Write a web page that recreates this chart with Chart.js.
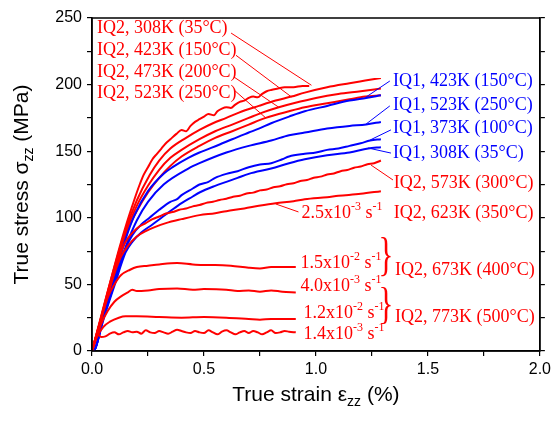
<!doctype html>
<html lang="en">
<head>
<meta charset="UTF-8" />
<title>True stress - true strain</title>
<script src="https://cdn.jsdelivr.net/npm/chart.js"></script>
<style>body{margin:0;background:#fff}</style>
</head>
<body>
<canvas id="stressChart" width="555" height="422"></canvas>
<script>
// ---- IQ2 (red) ----
const iq2_308_strain = [0, 0.03, 0.06, 0.09, 0.12, 0.155, 0.18, 0.2, 0.213, 0.23, 0.25, 0.27, 0.29, 0.31, 0.33, 0.35, 0.377, 0.4, 0.42, 0.44, 0.46, 0.48, 0.5, 0.52, 0.545, 0.56, 0.58, 0.6, 0.62, 0.64, 0.66, 0.68, 0.7, 0.72, 0.74, 0.76, 0.78, 0.8, 0.83, 0.86, 0.9, 0.94, 0.97];
const iq2_308_stress = [0, 18, 38, 57, 76, 96, 109, 119, 125, 132, 138, 144, 148, 152, 156, 159, 163, 166, 165, 169, 172, 174, 176, 178, 177, 180, 182, 183, 182.5, 185, 187, 188, 190, 191, 190.5, 193, 195, 196, 197, 198, 198, 199, 199];

const iq2_423_strain = [0, 0.05, 0.1, 0.15, 0.2, 0.257, 0.3, 0.35, 0.42, 0.48, 0.54, 0.6, 0.656, 0.745, 0.82, 0.89, 0.95, 1.05, 1.15, 1.22, 1.29];
const iq2_423_stress = [0, 32, 63, 91, 113, 132, 143, 152, 160, 166, 171, 175, 179, 184, 188, 191, 194, 198, 201, 203, 205];

const iq2_473_strain = [0, 0.05, 0.1, 0.15, 0.2, 0.25, 0.3, 0.35, 0.4, 0.48, 0.55, 0.626, 0.7, 0.76, 0.834, 0.9, 1.0, 1.1, 1.2, 1.29];
const iq2_473_stress = [0, 31, 62, 89, 109, 124, 136, 145, 151, 159, 165, 170, 175, 179, 183, 186, 190, 193, 195, 197];

const iq2_523_strain = [0, 0.05, 0.1, 0.15, 0.2, 0.25, 0.3, 0.35, 0.4, 0.48, 0.55, 0.626, 0.7, 0.776, 0.88, 0.95, 1.05, 1.15, 1.22, 1.29];
const iq2_523_stress = [0, 30, 61, 87, 105, 119, 130, 139, 146, 154, 160, 165, 170, 175, 180, 183, 186, 189, 191, 192];

const iq2_573_strain = [0, 0.05, 0.1, 0.15, 0.2, 0.24, 0.27, 0.3, 0.33, 0.36, 0.39, 0.42, 0.45, 0.48, 0.51, 0.54, 0.57, 0.6, 0.63, 0.66, 0.69, 0.72, 0.75, 0.78, 0.81, 0.84, 0.87, 0.9, 0.93, 0.96, 0.99, 1.02, 1.05, 1.08, 1.11, 1.14, 1.17, 1.2, 1.23, 1.26, 1.29];
const iq2_573_stress = [0, 30, 60, 82, 92, 96, 99, 101, 103.2, 104.3, 106, 107, 108.6, 109.6, 111.2, 112, 113.4, 114.3, 115.8, 116.6, 118.2, 118.9, 120.6, 121.3, 122.9, 123.7, 125.2, 125.9, 127.6, 128.4, 130.1, 130.9, 132.5, 133.3, 135, 135.9, 137.6, 138.5, 140.2, 141, 143];

const iq2_623_strain = [0, 0.05, 0.1, 0.13, 0.16, 0.2, 0.24, 0.28, 0.33, 0.4, 0.48, 0.55, 0.6, 0.68, 0.745, 0.82, 0.9, 0.95, 1.05, 1.1, 1.2, 1.29];
const iq2_623_stress = [0, 30, 58, 71, 79, 86, 90, 93, 96, 99, 102, 103.5, 105, 107, 109, 111, 112.5, 114, 115.5, 116.5, 118, 120];

const iq2_673a_strain = [0, 0.03, 0.07, 0.1, 0.13, 0.17, 0.2, 0.25, 0.3, 0.38, 0.45, 0.5, 0.55, 0.62, 0.7, 0.75, 0.8, 0.85, 0.91];
const iq2_673a_stress = [0, 17, 40, 50, 57, 61, 63, 64, 65, 66, 65, 64.5, 64.5, 64, 62.5, 62, 63, 63, 63];

const iq2_673b_strain = [0, 0.02, 0.04, 0.07, 0.1, 0.13, 0.16, 0.18, 0.2, 0.25, 0.3, 0.38, 0.45, 0.5, 0.6, 0.65, 0.7, 0.75, 0.8, 0.85, 0.91];
const iq2_673b_stress = [0, 10, 20, 30, 37, 41, 44, 46, 45, 45.5, 46.5, 47, 46, 46.5, 46, 45, 45.5, 44.5, 45.5, 44.5, 44];

const iq2_773a_strain = [0, 0.02, 0.05, 0.08, 0.12, 0.15, 0.2, 0.3, 0.4, 0.5, 0.6, 0.7, 0.75, 0.8, 0.91];
const iq2_773a_stress = [0, 10, 18, 22, 25, 26, 26, 25.5, 25, 25.5, 25, 24, 23.5, 24, 24];

const iq2_773b_strain = [0, 0.01, 0.02, 0.03, 0.04, 0.06, 0.08, 0.1, 0.12, 0.14, 0.16, 0.18, 0.2, 0.22, 0.24, 0.26, 0.28, 0.3, 0.32, 0.34, 0.36, 0.38, 0.4, 0.42, 0.44, 0.46, 0.48, 0.5, 0.52, 0.54, 0.56, 0.58, 0.6, 0.62, 0.64, 0.66, 0.68, 0.7, 0.72, 0.74, 0.76, 0.78, 0.8, 0.82, 0.84, 0.86, 0.88, 0.91];
const iq2_773b_stress = [0, 6, 11, 12, 10.5, 11, 13, 14, 12.5, 14, 15, 14, 14.5, 13, 15.5, 14, 13.5, 15, 14, 13, 14.5, 16, 15, 14, 13.5, 15, 14, 13.5, 15.5, 14, 12.5, 14.5, 15.5, 14, 12.5, 14, 15, 13.5, 15, 14, 12.5, 14, 15.5, 13.5, 14, 15, 14.5, 14];

// ---- IQ1 (blue) ----
const iq1_423_strain = [0, 0.015, 0.05, 0.1, 0.15, 0.19, 0.25, 0.32, 0.36, 0.43, 0.48, 0.57, 0.626, 0.7, 0.745, 0.8, 0.88, 0.95, 1.05, 1.15, 1.224, 1.29];
const iq1_423_stress = [0, 2, 26, 55, 84, 102, 120, 133, 138, 145, 149, 155, 159, 164, 167, 171, 176, 180, 184, 188, 190, 192];

const iq1_523_strain = [0, 0.015, 0.05, 0.1, 0.15, 0.2, 0.25, 0.32, 0.43, 0.48, 0.6, 0.7, 0.8, 0.88, 0.95, 1.05, 1.15, 1.224, 1.29];
const iq1_523_stress = [0, 2, 25, 52, 78, 98, 112, 125, 137, 141, 149, 154, 158, 162, 164, 167, 169, 170, 172];

const iq1_373_strain = [0, 0.015, 0.05, 0.1, 0.15, 0.18, 0.22, 0.257, 0.3, 0.35, 0.38, 0.4, 0.45, 0.48, 0.52, 0.55, 0.6, 0.65, 0.7, 0.75, 0.8, 0.85, 0.88, 0.95, 1.0, 1.05, 1.1, 1.15, 1.2, 1.242, 1.29];
const iq1_373_stress = [0, 2, 24, 51, 77, 87, 95, 100, 106, 112, 114, 117, 122, 125, 127, 130, 133, 135, 138, 140, 141, 144, 146, 148, 149, 151, 152, 154, 156, 158, 159];

const iq1_308_strain = [0, 0.015, 0.05, 0.1, 0.15, 0.18, 0.22, 0.27, 0.31, 0.35, 0.4, 0.45, 0.48, 0.55, 0.6, 0.65, 0.7, 0.8, 0.88, 0.95, 1.05, 1.15, 1.233, 1.29];
const iq1_308_stress = [0, 2, 23, 49, 74, 82, 89, 95, 100, 105, 111, 116, 119, 124, 127, 130, 133, 137, 141, 144, 147, 149, 152, 153];

// ticks
const xTicks = [0, 0.5, 1, 1.5, 2];
const yTicks = [0, 50, 100, 150, 200, 250];

const RED = '#ff0000', BLUE = '#0000ff';
const SERIF = '"Liberation Serif", "Times New Roman", serif';
const SANS = '"Liberation Sans", Arial, sans-serif';

function curve(xs, ys, color) {
  return {
    data: xs.map((v, i) => ({ x: v, y: ys[i] })),
    borderColor: color,
    borderWidth: 2,
    showLine: true,
    pointRadius: 0,
    cubicInterpolationMode: 'monotone',
    fill: false
  };
}

const datasets = [
  curve(iq2_773b_strain, iq2_773b_stress, RED),
  curve(iq2_773a_strain, iq2_773a_stress, RED),
  curve(iq2_673b_strain, iq2_673b_stress, RED),
  curve(iq2_673a_strain, iq2_673a_stress, RED),
  curve(iq2_623_strain, iq2_623_stress, RED),
  curve(iq2_573_strain, iq2_573_stress, RED),
  curve(iq1_308_strain, iq1_308_stress, BLUE),
  curve(iq1_373_strain, iq1_373_stress, BLUE),
  curve(iq1_523_strain, iq1_523_stress, BLUE),
  curve(iq1_423_strain, iq1_423_stress, BLUE),
  curve(iq2_523_strain, iq2_523_stress, RED),
  curve(iq2_473_strain, iq2_473_stress, RED),
  curve(iq2_423_strain, iq2_423_stress, RED),
  curve(iq2_308_strain, iq2_308_stress, RED)
];

// annotations: [parts, x(strain), y(stress), color]
const rate = (m, e) => [[m + 'x10', 0], ['-' + e, 1], [' s', 0], ['-1', 1]];
const notes = [
  [[['IQ2, 308K (35°C)', 0]], 0.022, 242.5, RED],
  [[['IQ2, 423K (150°C)', 0]], 0.022, 226, RED],
  [[['IQ2, 473K (200°C)', 0]], 0.022, 209.5, RED],
  [[['IQ2, 523K (250°C)', 0]], 0.022, 193.7, RED],
  [[['IQ1, 423K (150°C)', 0]], 1.344, 202.7, BLUE],
  [[['IQ1, 523K (250°C)', 0]], 1.344, 184.7, BLUE],
  [[['IQ1, 373K (100°C)', 0]], 1.344, 167.4, BLUE],
  [[['IQ1, 308K (35°C)', 0]], 1.344, 148.6, BLUE],
  [[['IQ2, 573K (300°C)', 0]], 1.348, 126, RED],
  [[['IQ2, 623K (350°C)', 0]], 1.348, 103.6, RED],
  [[['IQ2, 673K (400°C)', 0]], 1.353, 60.8, RED],
  [[['IQ2, 773K (500°C)', 0]], 1.353, 25.5, RED],
  [rate('2.5', 3), 0.936, 103.6, RED],
  [rate('1.5', 2), 0.931, 66, RED],
  [rate('4.0', 3), 0.931, 48.8, RED],
  [rate('1.2', 2), 0.945, 28.5, RED],
  [rate('1.4', 3), 0.945, 12.8, RED]
];
// leader lines: [x1, y1, x2, y2, color]
const leaders = [
  [0.621, 238.7, 0.98, 199.5, RED],
  [0.643, 222, 0.891, 190.7, RED],
  [0.634, 205.7, 0.834, 183, RED],
  [0.634, 196, 0.776, 175, RED],
  [1.330, 202.7, 1.224, 190.7, BLUE],
  [1.330, 184, 1.224, 170.4, BLUE],
  [1.335, 166, 1.242, 158.4, BLUE],
  [1.335, 148.6, 1.233, 152.4, BLUE],
  [1.344, 128.4, 1.246, 139.6, RED],
  [0.922, 104.4, 0.82, 110.4, RED]
];
// braces: [x left, x right, y top, y bottom]
const braces = [
  [1.290, 1.335, 75.8, 47.3],
  [1.290, 1.335, 39.8, 12.0]
];

function rich(ctx, parts, x, y, size, family, draw) {
  let cx = x;
  for (const [t, s] of parts) {
    const fs = s ? Math.round(size * 0.65) : size;
    ctx.font = fs + 'px ' + family;
    if (draw) ctx.fillText(t, cx, y - s * size * 0.33);
    cx += ctx.measureText(t).width;
  }
  return cx - x;
}

const annotate = {
  id: 'annotate',
  afterDraw(chart) {
    const { ctx, chartArea: a } = chart;
    const X = v => chart.scales.x.getPixelForValue(v);
    const Y = v => chart.scales.y.getPixelForValue(v);
    ctx.save();
    ctx.strokeStyle = '#000';
    ctx.lineWidth = 1.5;
    ctx.strokeRect(a.left, a.top, a.right - a.left, a.bottom - a.top);

    ctx.lineWidth = 1;
    for (const [x1, y1, x2, y2, c] of leaders) {
      ctx.strokeStyle = c;
      ctx.beginPath();
      ctx.moveTo(X(x1), Y(y1));
      ctx.lineTo(X(x2), Y(y2));
      ctx.stroke();
    }

    ctx.textBaseline = 'middle';
    ctx.textAlign = 'left';
    for (const [parts, x, y, c] of notes) {
      ctx.fillStyle = c;
      rich(ctx, parts, X(x), Y(y), 18, SERIF, true);
    }

    ctx.fillStyle = RED;
    ctx.font = '40px ' + SERIF;
    const m = ctx.measureText('}');
    const gh = m.actualBoundingBoxAscent + m.actualBoundingBoxDescent;
    const gw = m.actualBoundingBoxRight + m.actualBoundingBoxLeft;
    for (const [xl, xr, yt, yb] of braces) {
      ctx.save();
      ctx.translate(X(xl), Y(yt));
      ctx.scale((X(xr) - X(xl)) / gw, (Y(yb) - Y(yt)) / gh);
      ctx.textBaseline = 'alphabetic';
      ctx.fillText('}', m.actualBoundingBoxLeft, m.actualBoundingBoxAscent);
      ctx.restore();
    }

    // axis titles
    ctx.fillStyle = '#000';
    const xt = [['True strain ε', 0], ['zz', -1], [' (%)', 0]];
    const wx = rich(ctx, xt, 0, 0, 21, SANS, false);
    rich(ctx, xt, (a.left + a.right) / 2 - wx / 2, 395, 21, SANS, true);

    const yt = [['True stress σ', 0], ['zz', -1], [' (MPa)', 0]];
    const wy = rich(ctx, yt, 0, 0, 21, SANS, false);
    ctx.translate(22, (a.top + a.bottom) / 2);
    ctx.rotate(-Math.PI / 2);
    rich(ctx, yt, -wy / 2, 0, 21, SANS, true);
    ctx.restore();
  }
};

const tickGrid = { drawOnChartArea: false, drawTicks: true, tickLength: 5, color: '#000', lineWidth: 1.2 };
const tickFont = { family: SANS, size: 16 };

new Chart(document.getElementById('stressChart'), {
  type: 'scatter',
  data: { datasets },
  options: {
    responsive: false,
    animation: false,
    layout: { padding: { top: 18, left: 0, right: 0, bottom: 0 } },
    plugins: { legend: { display: false }, tooltip: { enabled: false } },
    scales: {
      x: {
        type: 'linear', min: 0, max: 2,
        ticks: {
          stepSize: 0.25, autoSkip: false, maxRotation: 0, padding: 4,
          color: '#000', font: tickFont,
          callback: v => (xTicks.includes(v) ? v.toFixed(1) : '')
        },
        grid: tickGrid,
        border: { color: '#000', width: 1.5 },
        afterFit: s => { s.height = 71; }
      },
      y: {
        min: 0, max: 250,
        ticks: {
          stepSize: 25, autoSkip: false, padding: 5,
          color: '#000', font: tickFont,
          callback: v => (yTicks.includes(v) ? String(v) : '')
        },
        grid: tickGrid,
        border: { color: '#000', width: 1.5 },
        afterFit: s => { s.width = 92; }
      },
      y2: {
        position: 'right', min: 0, max: 250,
        ticks: { stepSize: 25, display: false },
        grid: tickGrid,
        border: { color: '#000', width: 1.5 },
        afterFit: s => { s.width = 12; }
      }
    }
  },
  plugins: [annotate]
});
</script>
</body>
</html>
